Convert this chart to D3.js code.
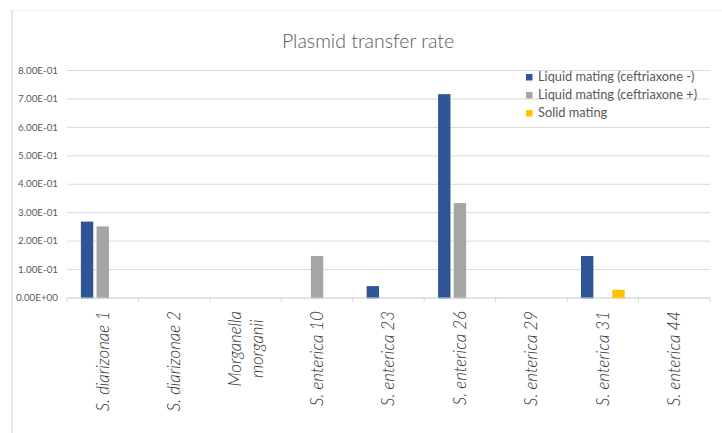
<!DOCTYPE html>
<html>
<head>
<meta charset="utf-8">
<script src="https://cdn.jsdelivr.net/npm/d3@7"></script>
<style>
  html, body { margin: 0; padding: 0; background: #ffffff; }
  svg { display: block; font-family: Lato, "Open Sans", sans-serif; }
</style>
</head>
<body>
<svg id="chart" width="722" height="433"></svg>
<script>
// Strains on the category axis (line breaks marked with "\n")
const categories = [
  "S. diarizonae 1", "S. diarizonae 2", "Morganella\nmorganii", "S. enterica 10",
  "S. enterica 23", "S. enterica 26", "S. enterica 29", "S. enterica 31", "S. enterica 44"
];
const seriesNames = [
  "Liquid mating (ceftriaxone -)",
  "Liquid mating (ceftriaxone +)",
  "Solid mating"
];
const liquidMinus = [0.267, 0, 0, 0, 0.04, 0.715, 0, 0.146, 0];
const liquidPlus  = [0.25, 0, 0, 0.146, 0, 0.332, 0, 0, 0];
const solidMating = [0, 0, 0, 0, 0, 0, 0, 0.027, 0];
const yTickValues = [0, 0.1, 0.2, 0.3, 0.4, 0.5, 0.6, 0.7, 0.8];
const titleText = "Plasmid transfer rate";

const seriesValues = [liquidMinus, liquidPlus, solidMating];
const colors = ["#2F5597", "#A5A5A5", "#FFC000"];

const svg = d3.select("#chart");

// chart frame edges
svg.append("line").attr("x1", 12).attr("x2", 722).attr("y1", 10.5).attr("y2", 10.5)
  .attr("stroke", "#EFEFEF").attr("stroke-width", 1);
svg.append("line").attr("x1", 12).attr("x2", 12).attr("y1", 10).attr("y2", 433)
  .attr("stroke", "#E6E6E6").attr("stroke-width", 2);

const plot = { left: 67, right: 710, top: 70, bottom: 297.5 };

const x = d3.scaleBand().domain(categories).range([plot.left, plot.right]).paddingInner(0).paddingOuter(0);
const groupWidth = 43.7;
const xSub = d3.scaleBand().domain(seriesNames).range([0, groupWidth]).paddingInner(0.21).paddingOuter(0);
const y = d3.scaleLinear().domain([0, 0.8]).range([plot.bottom, plot.top]);

// exponent notation like 8.00E-01
function sci(v) {
  const [m, e] = v.toExponential(2).split("e");
  const n = parseInt(e, 10);
  return m + "E" + (n < 0 ? "-" : "+") + String(Math.abs(n)).padStart(2, "0");
}

// gridlines and y labels
const yAxis = d3.axisLeft(y).tickValues(yTickValues).tickFormat(sci)
  .tickSize(-(plot.right - plot.left)).tickPadding(9);
const gy = svg.append("g").attr("transform", `translate(${plot.left},0)`).call(yAxis);
gy.select(".domain").remove();
gy.selectAll(".tick line").attr("stroke", "#D9D9D9").attr("stroke-width", 1);
gy.selectAll(".tick text").attr("fill", "#595959").style("font-size", "9.8px")
  .style("font-family", "Lato, sans-serif");

// bars
const groups = svg.append("g").selectAll("g")
  .data(categories)
  .join("g")
  .attr("transform", d => `translate(${x(d) + (x.bandwidth() - groupWidth) / 2},0)`);

groups.selectAll("rect")
  .data((d, i) => seriesNames.map((s, k) => ({ s, k, v: seriesValues[k][i] })).filter(o => o.v > 0))
  .join("rect")
  .attr("x", o => xSub(o.s))
  .attr("width", xSub.bandwidth())
  .attr("y", o => y(o.v))
  .attr("height", o => y(0) - y(o.v) + 1)
  .attr("fill", o => colors[o.k]);

// category axis
const xAxis = d3.axisBottom(x).tickSize(0).tickFormat("");
const gx = svg.append("g").attr("transform", `translate(0,${plot.bottom})`).call(xAxis);
gx.select(".domain").attr("stroke", "#D9D9D9");
gx.selectAll(".tick").remove();
const boundaries = categories.map(c => x(c)).concat([plot.right]);
gx.selectAll("line.sep").data(boundaries).join("line").attr("class", "sep")
  .attr("x1", d => d).attr("x2", d => d).attr("y1", 0).attr("y2", 5)
  .attr("stroke", "#D9D9D9");

// rotated category labels
const labelTop = 311;
const lineGap = 22;
categories.forEach(c => {
  const lines = c.split("\n");
  const cx = x(c) + x.bandwidth() / 2;
  const g = svg.append("g");
  const texts = lines.map((ln, i) => {
    const off = (i - (lines.length - 1) / 2) * lineGap;
    return g.append("text")
      .attr("transform", `translate(${cx + off},${labelTop}) rotate(-90)`)
      .attr("dy", "0.35em")
      .attr("text-anchor", "end")
      .attr("fill", "#303030")
      .style("font-size", "16.8px")
      .style("font-style", "italic")
      .style("font-weight", 300)
      .text(ln);
  });
  // centre shorter lines against the longest one
  const lens = texts.map(t => t.node().getComputedTextLength());
  const maxLen = Math.max(...lens);
  texts.forEach((t, i) => {
    const off = (i - (lines.length - 1) / 2) * lineGap;
    t.attr("transform", `translate(${cx + off},${labelTop + (maxLen - lens[i]) / 2}) rotate(-90)`);
  });
});

// title
svg.append("text").attr("x", 368).attr("y", 48).attr("text-anchor", "middle")
  .attr("fill", "#595959").style("font-size", "19.5px").style("font-weight", 300)
  .text(titleText);

// legend
const legend = svg.append("g").attr("transform", "translate(526,77)");
const items = legend.selectAll("g").data(seriesNames).join("g")
  .attr("transform", (d, i) => `translate(0,${i * 18})`);
items.append("rect").attr("x", 0).attr("y", -3).attr("width", 6.5).attr("height", 6.5)
  .attr("fill", (d, i) => colors[i]);
items.append("text").attr("x", 12).attr("y", 0).attr("dy", "0.35em")
  .attr("fill", "#595959").style("font-size", "12.8px").text(d => d);
</script>
</body>
</html>
